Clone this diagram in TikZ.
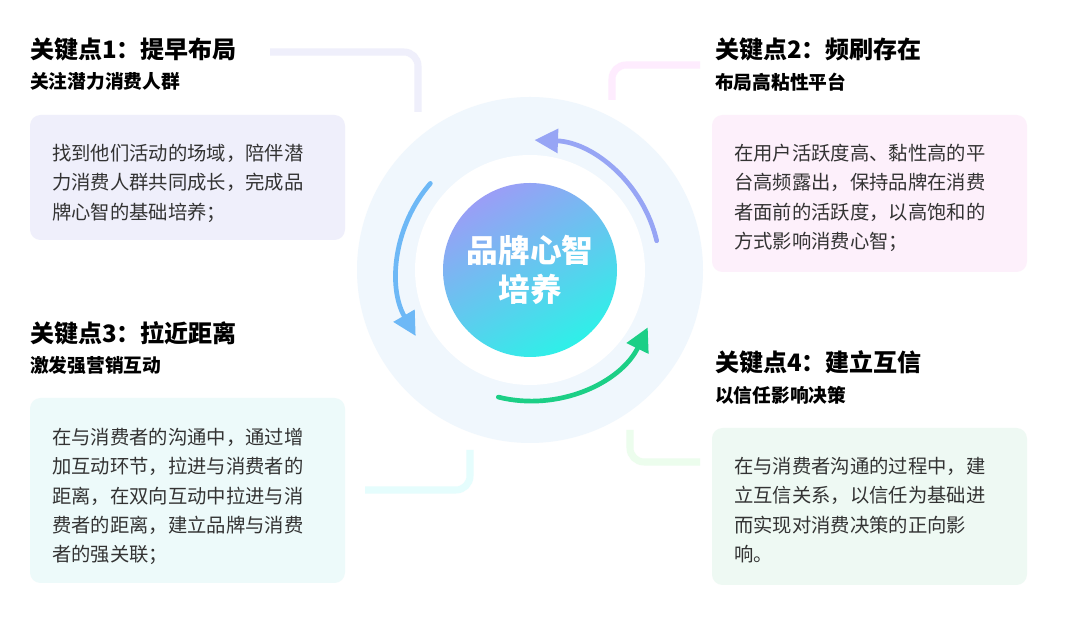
\documentclass[tikz,border=0pt]{standalone}
\usepackage{fontspec}
\setmainfont{Noto Sans CJK SC}
\usetikzlibrary{arrows.meta}
\definecolor{lav}{HTML}{EFEFFB}
\definecolor{pinkbg}{HTML}{FDF0FB}
\definecolor{cyanbg}{HTML}{EDFAFA}
\definecolor{greenbg}{HTML}{EEF9F3}
\definecolor{ringbg}{HTML}{F0F7FD}
\definecolor{arrblue}{HTML}{7D8FF2}
\definecolor{arrsky}{HTML}{6DB8F6}
\definecolor{arrgreen}{HTML}{1CCF86}
\definecolor{coretop}{HTML}{9A9EF6}
\definecolor{corebot}{HTML}{2EF0E8}
\begin{document}
\begin{tikzpicture}[
    x=0.03cm, y=0.03cm,
    title/.style={anchor=west, inner sep=0pt, font=\bfseries\fontsize{20.5}{24}\selectfont},
    subtitle/.style={anchor=west, inner sep=0pt, font=\bfseries\fontsize{16}{19}\selectfont},
    card/.style={rounded corners=9pt, draw=none},
    cardtext/.style={anchor=north west, inner sep=0pt, align=left,
      font=\fontsize{16.5}{25}\selectfont, text=black!80},
    link/.style={line width=6pt, rounded corners=12pt},
    cycle/.style={line width=4pt, line cap=round, -{Triangle[length=20pt,width=20pt]}}
]
\useasboundingbox[fill=white] (0,0) rectangle (1080,628);
% centre rings
\fill[ringbg] (530,358) circle (173);
\fill[white] (530,358) circle (115);
\shade[top color=coretop, bottom color=corebot, shading angle=30]
  (530,358) circle (87);
\node[text=white, align=center, font=\bfseries\fontsize{27}{33}\selectfont] (core) at (530,358) {品牌心智\\培养};
% cycle arrows
\coordinate (c) at (530,358);
\draw[cycle, arrblue!80] ([shift={(13:130)}]c) arc (13:88:130);
\draw[cycle, arrsky] ([shift={(139:132)}]c) arc (139:210:132);
\draw[cycle, arrgreen] ([shift={(256:131)}]c) arc (256:334:131);
% links
\draw[link, lav] (270,576) -- (418,576) -- (418,516);
\draw[link, pinkbg!80!magenta!30] (612,528) -- (612,563) -- (700,563);
\draw[link, cyanbg!80!cyan!40] (365,138) -- (470,138) -- (470,178);
\draw[link, greenbg!80!green!30] (630,198) -- (630,166) -- (700,166);
% key point 1
\node[title] (t1) at (30,578) {关键点1：提早布局};
\node[subtitle] (s1) at (30,547) {关注潜力消费人群};
\fill[card, lav] (30,388) rectangle (345,513);
\node[cardtext] (b1) at (52,484) {找到他们活动的场域，陪伴潜\\力消费人群共同成长，完成品\\牌心智的基础培养；};
% key point 2
\node[title] (t2) at (715,578) {关键点2：频刷存在};
\node[subtitle] (s2) at (715,546) {布局高粘性平台};
\fill[card, pinkbg] (712,356) rectangle (1027,513);
\node[cardtext] (b2) at (734,484) {在用户活跃度高、黏性高的平\\台高频露出，保持品牌在消费\\者面前的活跃度，以高饱和的\\方式影响消费心智；};
% key point 3
\node[title] (t3) at (30,295) {关键点3：拉近距离};
\node[subtitle] (s3) at (30,263) {激发强营销互动};
\fill[card, cyanbg] (30,45) rectangle (345,230);
\node[cardtext] (b3) at (52,200) {在与消费者的沟通中，通过增\\加互动环节，拉进与消费者的\\距离，在双向互动中拉进与消\\费者的距离，建立品牌与消费\\者的强关联；};
% key point 4
\node[title] (t4) at (715,266) {关键点4：建立互信};
\node[subtitle] (s4) at (715,233) {以信任影响决策};
\fill[card, greenbg] (712,43) rectangle (1027,200);
\node[cardtext] (b4) at (734,171) {在与消费者沟通的过程中，建\\立互信关系，以信任为基础进\\而实现对消费决策的正向影\\响。};
\end{tikzpicture}
\end{document}
